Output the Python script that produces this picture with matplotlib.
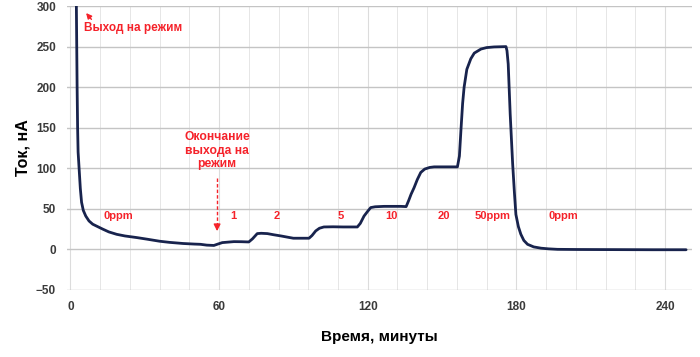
import matplotlib

matplotlib.use('Agg')
import numpy as np
import matplotlib.pyplot as plt
from matplotlib import font_manager

# sensor current vs time
time_min = [2.4, 2.7, 2.9, 3.1, 3.5, 4.0, 4.5, 5.2, 6.2, 7.5, 9, 11, 13, 15.5, 18.7,
            22, 26.8, 31, 36, 40, 45.5, 50, 52.5, 55, 57.9, 59.5, 61.3, 64, 66, 69,
            72, 73.5, 75.4, 77, 79.5, 82, 85, 88, 90, 93, 96.3, 97.5, 99, 100.5,
            102.3, 106, 110, 115.8, 117, 118.5, 120, 121.2, 123, 126.6, 130, 133.3,
            135.5, 136.5, 137.5, 138.7, 140, 141.4, 143, 145, 146.8, 150, 153, 156.2,
            157, 157.6, 158.3, 158.9, 160, 161.6, 163, 165.7, 168, 171, 175.8, 176.2,
            176.7, 177.5, 178.5, 179.2, 179.8, 180.8, 181.8, 183, 184.5, 187, 190,
            193, 196.6, 205, 215, 225, 235, 248.5]
current_na = [300, 200, 150, 120, 100, 75, 58, 48, 41, 35, 31, 28, 25, 21.5, 18.5,
              16.5, 14.5, 12.5, 10, 8.6, 7.2, 6.5, 6.2, 5.2, 4.8, 6.5, 8.3, 9, 9.5, 9.4,
              9.1, 13, 19.4, 19.8, 19.4, 18, 16.5, 14.8, 13.7, 13.7, 13.7, 17, 22.7, 26,
              27.6, 27.8, 27.6, 27.6, 32, 41, 47, 51.5, 52.5, 53, 53, 53, 52.7, 60, 68,
              76, 86, 94.8, 99, 101, 101.7, 101.7, 101.7, 101.7, 115, 146, 180, 200,
              222, 235, 242, 247, 248.8, 249.6, 250, 245, 228.5, 166.7, 105, 70, 43,
              28, 18.6, 11, 6.2, 3, 1.4, 0.6, 0, -0.2, -0.3, -0.4, -0.5, -0.5]

# concentration labels along the curve
conc_labels = ['0ppm', '1', '2', '5', '10', '20', '50ppm', '0ppm']
conc_times = [19.2, 65.6, 83.2, 109, 129.6, 150.7, 170.4, 198.9]
conc_level = 41

red = '#f5222a'
navy = '#18234d'

installed = {f.name for f in font_manager.fontManager.ttflist}
tick_font = 'Liberation Sans Narrow' if 'Liberation Sans Narrow' in installed else 'Liberation Sans'
tick_size = 9.5 if tick_font == 'Liberation Sans Narrow' else 8.5

fig = plt.figure(figsize=(7.0, 3.57), dpi=100)
ax = fig.add_axes([0.096, 0.188, 0.893, 0.795])

ax.set_xlim(-1.3, 251)
ax.set_ylim(-50, 300)
ax.set_xticks(np.arange(0, 241, 60))
ax.set_xticks(np.arange(0, 251, 12), minor=True)
ax.set_yticks(np.arange(-50, 301, 50))

ax.grid(True, which='major', axis='y', color='#c4c4c4', lw=1.0)
ax.grid(True, which='major', axis='x', color='#dcdcdc', lw=0.8)
ax.grid(True, which='minor', axis='x', color='#e6e6e6', lw=0.7)
ax.set_axisbelow(True)
for s in ax.spines.values():
    s.set_visible(False)
ax.tick_params(which='both', length=0)
ax.tick_params(axis='y', pad=8)
ax.tick_params(axis='x', pad=8)
for lab in ax.get_xticklabels() + ax.get_yticklabels():
    lab.set_fontfamily(tick_font)
    lab.set_fontweight('bold')
    lab.set_fontsize(tick_size)
    lab.set_color('#3a3a3a')

ax.plot(time_min, current_na, color=navy, lw=2.0, solid_capstyle='round',
        solid_joinstyle='round', zorder=3)

for lab, t in zip(conc_labels, conc_times):
    ax.text(t, conc_level, lab, color=red, fontsize=8, fontweight='bold',
            family='Liberation Sans', ha='center', va='center')

# start-up annotation
ax.text(5.3, 273.5, 'Выход на режим', color=red, fontsize=8.5, fontweight='bold',
        family='Liberation Sans', ha='left', va='center')
ax.annotate('', xy=(5.6, 294), xytext=(9.2, 281),
            arrowprops=dict(arrowstyle='-|>', color=red, lw=1.0, mutation_scale=8))

# end of start-up annotation
ax.text(59.2, 121.5, 'Окончание\nвыхода на\nрежим', color=red, fontsize=8.7,
        fontweight='bold', family='Liberation Sans', ha='center', va='center',
        linespacing=1.15)
ax.plot([59.2, 59.2], [88, 28], color=red, lw=1.0, ls=(0, (2.5, 1.5)))
ax.annotate('', xy=(59.2, 19), xytext=(59.2, 30),
            arrowprops=dict(arrowstyle='-|>', color=red, lw=1.0, mutation_scale=10))

ax.set_xlabel('Время, минуты', fontsize=11, fontweight='bold',
              family='Liberation Sans', labelpad=12)
ax.set_ylabel('Ток, нА', fontsize=11.5, fontweight='bold',
              family='Liberation Sans', labelpad=4)

plt.savefig('out.png', dpi=100)
